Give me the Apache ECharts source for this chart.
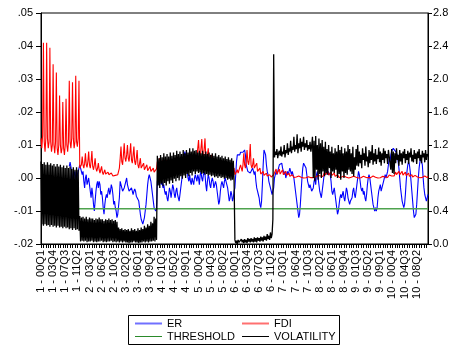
<!DOCTYPE html>
<html><head><meta charset="utf-8">
<script src="https://cdn.jsdelivr.net/npm/echarts@6/dist/echarts.min.js"></script>
<style>html,body{margin:0;padding:0;background:#fff}#c{width:449px;height:347px}</style>
</head><body><div id="c"></div>
<script>
// ---- categories (panel - yearQuarter) ----
const panels = [1,2,3,4,5,6,7,8,9,10];
const years = ['00','01','02','03','04','05','06','07','08','09','10','11'];
const quarters = ['Q1','Q2','Q3','Q4'];
const categories = [];
panels.forEach(p => years.forEach(y => quarters.forEach(q => categories.push(p + ' - ' + y + q))));

// ---- ER (left axis) ----
const ER_P1 = [null,null,null,null,null,null,null,null,null,null,null,null,null,null,null,null,null,null,null,null,null,null,null,null,null,null,null,null,null,null,null,null,null,null,null,
 .0035,.0048,.0042,.002,.000,-.002,.001,.002,.000,-.001,.001,.002,.003];
const ER_P2 = [.004,.003,.002,.001,.002,-.001,-.003,.000,.001,-.002,-.001,.000,-.002,-.004,-.006,-.003,-.005,-.008,-.010,-.007,-.004,-.002,-.001,-.003,-.001,-.002,-.005,-.004,-.006,-.009,-.011,-.008,-.006,-.005,-.006,-.004,-.003,-.005,-.004,-.002,-.003,-.005,-.008,-.007,-.009,-.010,-.012,-.011];
const ER_P3 = [-.011,-.006,-.001,-.002,-.0024,-.004,-.0045,-.003,-.002,-.001,.000,-.002,-.003,-.004,-.0045,-.004,-.003,-.004,-.005,-.004,-.0033,-.004,-.0055,-.006,-.006,-.007,-.009,-.011,-.0125,-.013,-.014,-.013,-.012,-.010,-.008,-.005,-.002,.000,.001,.000,-.001,-.003,-.005,-.007,-.009,-.0095,-.010,-.009];
const ER_P4 = [-.001,.000,-.002,.001,.000,-.002,-.001,-.003,-.002,-.004,-.005,-.004,-.006,-.007,-.005,-.003,-.004,-.006,-.004,-.002,-.003,-.005,-.006,-.004,-.003,-.005,-.006,-.007,-.005,-.003,-.001,.001,.003,.006,.008,.007,.004,.002,.000,-.001,.001,-.001,-.002,.000,-.001,-.002,.000,.001];
const ER_P5 = [.000,-.001,.001,.000,-.002,.001,.002,.000,-.001,.001,.002,.001,-.002,-.004,-.001,.001,.000,-.002,-.003,-.001,.000,-.001,-.003,-.002,-.001,-.002,-.004,-.006,-.008,-.007,-.004,-.002,-.001,-.002,-.003,-.001,.000,-.001,-.002,-.003,-.005,-.007,-.006,-.004,-.005,-.007,-.006,-.004];
const ER_P6 = [-.003,.001,.005,.007,.007,.0075,.007,.0078,.0075,.008,.0078,.008,.0085,.007,.004,.003,.002,.0015,.002,.0015,.002,.001,.003,.002,.001,.002,-.001,-.003,-.004,-.005,-.006,-.008,-.009,-.007,-.002,.004,.0085,.009,.007,.004,.002,.001,-.001,-.002,-.003,-.004,-.005,-.004];
const ER_P7 = [-.003,.000,.001,.002,.001,.002,.003,.004,.0045,.004,.0045,.003,.002,.001,.002,.000,.001,.002,.001,.002,.003,.002,.001,.002,.001,.000,-.002,-.004,-.006,-.008,-.010,-.012,-.011,-.008,-.004,.000,.003,.0045,.004,.0045,.003,.001,-.001,-.002,-.003,-.002,-.003,-.004];
const ER_P8 = [-.004,-.003,-.001,.000,-.002,.001,.002,.000,-.002,-.004,-.005,-.006,-.004,-.002,.000,.002,.003,.002,.001,.002,.0025,.002,.001,-.001,-.004,-.005,-.004,-.003,-.005,-.007,-.009,-.011,-.010,-.008,-.006,-.005,-.006,-.005,-.004,-.006,-.007,-.005,-.003,-.004,-.006,-.007,-.008,-.007];
const ER_P9 = [-.007,-.006,-.004,-.003,-.005,-.006,-.004,-.002,.000,.002,.001,-.001,-.003,-.004,-.003,-.005,-.004,-.006,-.007,-.005,-.002,.000,.001,.000,-.002,-.004,-.006,-.008,-.009,-.010,-.009,-.010,-.009,-.006,-.004,-.003,-.002,-.004,-.003,-.002,-.001,.000,.001,.000,.001,.002,.004,.006];
const ER_P10 = [.005,.007,.008,.0085,.009,.0085,.009,.008,.0085,.007,.005,.003,.000,-.003,-.005,-.007,-.008,-.009,-.008,-.005,-.001,.002,.004,.005,.004,.002,-.001,-.004,-.007,-.010,-.012,-.0125,-.011,-.008,-.004,.000,.003,.005,.006,.006,.004,.000,-.003,-.005,-.006,-.007,-.006,-.005];

// ---- FDI (left axis) ----
const FDI_P1 = [.012,.009,.013,.041, .011,.008,.012,.041, .012,.009,.011,.0395, .011,.008,.010,.0345, .010,.0075,.011,.032, .009,.007,.010,.025, .010,.0075,.009,.023, .009,.007,.010,.024, .010,.008,.011,.0295, .011,.009,.012,.029, .012,.009,.011,.031, .011,.0095,.012,.0295];
const FDI_P2 = [.003,.0025,.004,.0065, .004,.003,.0045,.0075, .004,.0032,.005,.008, .004,.003,.005,.0082, .0035,.0025,.004,.006, .003,.002,.003,.0045, .0025,.0015,.0025,.0035, .0018,.001,.0018,.0025, .0012,.0008,.0012,.0018, .001,.0008,.001,.0015, .0009,.0006,.0009,.0012, .0008,.0006,.0008,.001];
const FDI_P3 = [.002,.003,.006,.0095, .005,.004,.007,.0105, .006,.005,.007,.010, .006,.005,.0075,.0105, .0055,.0045,.007,.0095, .005,.004,.006,.0085, .004,.003,.0045,.006, .003,.0025,.0035,.0045, .0025,.002,.003,.004, .0022,.0018,.0025,.0035, .002,.0015,.0022,.003, .0018,.0012,.002,.0028];
const FDI_P4 = [.005,.004,.005,.006, .005,.004,.0045,.0055, .0045,.0035,.0045,.0055, .0045,.0035,.0045,.005, .004,.0035,.004,.005, .004,.003,.004,.005, .004,.0035,.0045,.0055, .0045,.004,.005,.006, .005,.004,.005,.006, .005,.0045,.0055,.0065, .0055,.0045,.0055,.0065, .005,.0045,.005,.006];
const FDI_P5 = [.005,.006,.009,.0115, .007,.006,.009,.0118, .007,.006,.009,.012, .006,.005,.007,.009, .005,.004,.006,.007, .0045,.0035,.005,.006, .004,.003,.0045,.005, .0035,.003,.004,.0045, .003,.0025,.0035,.004, .003,.0025,.0035,.004, .0025,.002,.003,.0035, .0025,.002,.0025,.003];
const FDI_P6 = [.001,.001,.0015,.0025, .0015,.001,.002,.004, .003,.002,.004,.0075, .004,.003,.005,.0085, .005,.004,.006,.0103, .004,.003,.004,.006, .003,.0025,.003,.0045, .002,.0015,.002,.003, .0012,.001,.0012,.002, .0008,.0006,.0008,.0015, .0006,.0004,.0006,.001, .0004,.0003,.0004,.0008];
const FDI_P7 = [.001,.0008,.0012,.0027, .0012,.001,.0013,.0027, .0012,.001,.0012,.0025, .001,.0008,.001,.002, .0008,.0005,.0008,.0015, .0005,.0003,.0005,.001, .0004,.0002,.0004,.0008, .0003,.0001,.0003,.0006, .0002,0,.0002,.0005, .0002,0,.0002,.0005, .0001,-.0001,.0001,.0004, .0001,-.0001,.0001,.0004];
const FDI_P8 = [.0002,.0001,.0002,.0006, .0003,.0002,.0003,.0008, .0005,.0003,.0006,.0012, .0008,.0005,.0009,.0018, .001,.0008,.001,.002, .0009,.0007,.0009,.0018, .0008,.0005,.0007,.0015, .0005,.0003,.0005,.001, .0004,.0002,.0004,.0008, .0003,.0001,.0003,.0006, .0002,.0001,.0002,.0005, .0002,0,.0002,.0005];
const FDI_P9 = [.0002,0,.0002,.0005, .0002,.0001,.0002,.0006, .0002,0,.0003,.0006, .0001,0,.0002,.0005, .0002,0,.0002,.0006, .0002,.0001,.0002,.0005, .0001,0,.0002,.0006, .0002,0,.0002,.0005, .0002,0,.0002,.0006, .0001,0,.0002,.0005, .0002,0,.0003,.0007, .0003,.0002,.0004,.0009];
const FDI_P10 = [.0004,.0004,.0006,.0012, .0008,.0006,.0009,.0018, .001,.0008,.0011,.002, .001,.0008,.001,.002, .0009,.0007,.0009,.0018, .0007,.0005,.0007,.0015, .0005,.0003,.0005,.001, .0003,.0002,.0003,.0008, .0003,.0002,.0003,.0008, .0002,.0001,.0002,.0006, .0002,.0001,.0002,.0006, .0001,0,.0001,.0005];

// ---- THRESHOLD (left axis, constant estimate) ----
const THRESHOLD_VALUE = -0.0093;

// ---- VOLATILITY (right axis) ----
const VOL_P1 = [1.00,.24,.97,.22, .99,.24,.96,.22, .99,.23,.96,.21, .98,.23,.95,.21, .97,.22,.94,.20, .97,.22,.94,.20, .96,.21,.93,.19, .95,.21,.92,.19, .95,.20,.92,.18, .94,.19,.91,.17, .93,.19,.90,.17, .93,.18,.90,.16];
const VOL_P2 = [.34,.03,.32,.04, .33,.03,.31,.04, .33,.02,.30,.03, .32,.03,.31,.04, .31,.02,.29,.03, .31,.02,.30,.03, .32,.03,.30,.04, .30,.02,.28,.03, .30,.02,.29,.03, .31,.03,.29,.04, .30,.02,.28,.03, .29,.02,.27,.03];
const VOL_P3 = [.20,.02,.18,.03, .19,.02,.17,.03, .18,.02,.17,.02, .18,.01,.16,.02, .19,.02,.17,.03, .18,.02,.16,.02, .19,.01,.17,.02, .20,.02,.18,.03, .22,.02,.20,.03, .24,.02,.22,.03, .27,.03,.25,.04, .33,.03,.31,.05];
const VOL_P4 = [1.07,.71,1.04,.68, 1.08,.73,1.05,.70, 1.10,.74,1.06,.71, 1.09,.76,1.06,.73, 1.11,.77,1.07,.74, 1.11,.79,1.08,.76, 1.13,.80,1.09,.77, 1.12,.82,1.09,.79, 1.14,.83,1.10,.80, 1.14,.85,1.11,.82, 1.16,.86,1.12,.83, 1.16,.88,1.13,.85];
const VOL_P5 = [1.14,.88,1.11,.86, 1.13,.87,1.10,.85, 1.13,.86,1.09,.84, 1.12,.85,1.09,.83, 1.11,.84,1.08,.82, 1.10,.83,1.07,.81, 1.10,.82,1.06,.80, 1.08,.82,1.05,.80, 1.07,.81,1.04,.79, 1.06,.80,1.03,.78, 1.05,.79,1.02,.77, 1.04,.78,1.01,.76];
const VOL_P6 = [.05,.01,.04,.00, .05,.02,.04,.01, .06,.02,.05,.01, .06,.02,.05,.01, .07,.03,.06,.02, .07,.03,.06,.02, .08,.03,.07,.02, .08,.04,.07,.03, .09,.04,.08,.03, .10,.05,.09,.04, .12,.06,.10,.05, .14,.07,.12,.30];
const VOL_P7 = [2.30,1.05,1.12,1.08,1.15,1.04,1.10,1.13,1.07,1.18,1.06,1.12,1.09,1.20,1.05,1.14,1.10,1.22,1.08,1.16,1.12,1.25,1.10,1.18,1.14,1.30,1.12,1.20,1.15,1.33,1.10,1.22,1.16,1.28,1.12,1.24,1.18,1.30,1.14,1.22,1.17,1.26,1.13,1.20,1.15,1.24,1.12,1.19];
const VOL_P8 = [1.30,0.80,1.25,0.76,1.31,0.90,1.20,0.78,1.28,0.85,1.22,0.80,1.26,0.88,1.18,0.82,1.24,0.86,1.15,0.84,1.20,0.92,1.12,0.80,1.18,0.88,1.10,0.86,1.16,0.90,1.12,0.80,1.20,0.85,1.14,0.78,1.18,0.88,1.10,0.80,1.16,0.86,1.12,0.84,1.20,0.90,1.15,0.88];
const VOL_P9 = [1.10,0.85,1.18,0.82,1.05,0.90,1.15,0.95,1.20,0.94,1.12,0.98,1.08,0.92,1.16,1.02,1.10,0.95,1.18,1.00,1.06,0.93,1.14,0.98,1.12,1.02,1.20,0.96,1.10,1.00,1.15,0.97,1.08,1.03,1.17,0.99,1.12,0.95,1.10,1.02,1.16,0.98,1.13,1.04,1.09,0.97,1.14,1.06];
const VOL_P10 = [1.08,0.90,1.15,0.86,1.12,0.85,1.10,0.98,1.16,1.02,1.08,0.95,1.14,1.00,1.10,0.96,1.12,1.04,1.15,0.98,1.09,1.02,1.13,0.97,1.11,1.05,1.16,1.00,1.08,0.99,1.14,1.03,1.10,0.97,1.12,1.04,1.15,1.01,1.08,0.98,1.13,1.05,1.10,0.99,1.14,1.02,1.09,1.06];

const ER = [].concat(ER_P1,ER_P2,ER_P3,ER_P4,ER_P5,ER_P6,ER_P7,ER_P8,ER_P9,ER_P10);
const FDI = [].concat(FDI_P1,FDI_P2,FDI_P3,FDI_P4,FDI_P5,FDI_P6,FDI_P7,FDI_P8,FDI_P9,FDI_P10);
const VOLATILITY = [].concat(VOL_P1,VOL_P2,VOL_P3,VOL_P4,VOL_P5,VOL_P6,VOL_P7,VOL_P8,VOL_P9,VOL_P10);
const THRESHOLD = categories.map(() => THRESHOLD_VALUE);

const FONT = '"Liberation Sans", Arial, Helvetica, sans-serif';
const ICON_THICK = 'path://M0,0 M0,10 M0,4 L27,4 L27,6 L0,6 Z';
const ICON_THIN = 'path://M0,0 M0,10 M0,4.5 L27,4.5 L27,5.5 L0,5.5 Z';
const chart = echarts.init(document.getElementById('c'), null, {renderer: 'canvas'});
const lineSeries = (name, data, color, width, yIdx) => ({
  name, type: 'line', data, yAxisIndex: yIdx, symbol: 'none', showSymbol: false,
  lineStyle: {color, width}, itemStyle: {color}, animation: false, connectNulls: false,
  emphasis: {disabled: true}
});
const legendBase = {
  orient: 'vertical', top: 318, padding: 0, symbolKeepAspect: false,
  itemWidth: 27, itemHeight: 10, itemGap: 2, selectedMode: false,
  textStyle: {fontSize: 11, color: '#000', fontFamily: FONT}
};
chart.setOption({
  animation: false,
  backgroundColor: '#fff',
  textStyle: {fontFamily: FONT},
  grid: {left: 41, right: 21, top: 13, bottom: 103, containLabel: false, outerBoundsMode: 'none',
         show: true, borderColor: '#000', borderWidth: 1, backgroundColor: 'transparent'},
  xAxis: {
    type: 'category', data: categories, boundaryGap: false,
    axisLine: {onZero: false, lineStyle: {color: '#000', width: 1}},
    axisTick: {interval: 2, length: 4, lineStyle: {color: '#000'}},
    axisLabel: {interval: 14, rotate: 90, fontSize: 11, color: '#000', fontFamily: FONT, margin: 6},
    splitLine: {show: false}
  },
  yAxis: [
    {type: 'value', min: -0.02, max: 0.05, interval: 0.01, position: 'left',
     axisLine: {show: true, lineStyle: {color: '#000'}},
     axisTick: {show: true, length: 5, lineStyle: {color: '#000'}},
     axisLabel: {fontSize: 11, color: '#000', fontFamily: FONT, margin: 8,
       formatter: v => (v < -1e-9 ? '-' : '') + Math.abs(v).toFixed(2).replace(/^0/, '')},
     splitLine: {show: false}},
    {type: 'value', min: 0, max: 2.8, interval: 0.4, position: 'right',
     axisLine: {show: true, lineStyle: {color: '#000'}},
     axisTick: {show: true, length: 4, lineStyle: {color: '#000'}},
     axisLabel: {fontSize: 11, color: '#000', fontFamily: FONT, margin: 5,
       formatter: v => v.toFixed(1)},
     splitLine: {show: false}}
  ],
  legend: [
    Object.assign({}, legendBase, {left: 135, data: [
      {name: 'ER', icon: ICON_THICK, itemStyle: {color: '#7070ff'}},
      {name: 'THRESHOLD', icon: ICON_THIN, itemStyle: {color: '#2a8a2a'}}]}),
    Object.assign({}, legendBase, {left: 242, data: [
      {name: 'FDI', icon: ICON_THICK, itemStyle: {color: '#ff7070'}},
      {name: 'VOLATILITY', icon: ICON_THIN, itemStyle: {color: '#000000'}}]})
  ],
  graphic: [{type: 'rect', shape: {x: 128.5, y: 315.5, width: 211, height: 29},
             style: {fill: 'none', stroke: '#000', lineWidth: 1}, silent: true}],
  series: [
    lineSeries('ER', ER, '#0000ff', 1.1, 0),
    lineSeries('FDI', FDI, '#ff0000', 1.1, 0),
    lineSeries('THRESHOLD', THRESHOLD, '#4ea24e', 1.6, 0),
    lineSeries('VOLATILITY', VOLATILITY, '#000000', 1.3, 1)
  ]
});
</script></body></html>
